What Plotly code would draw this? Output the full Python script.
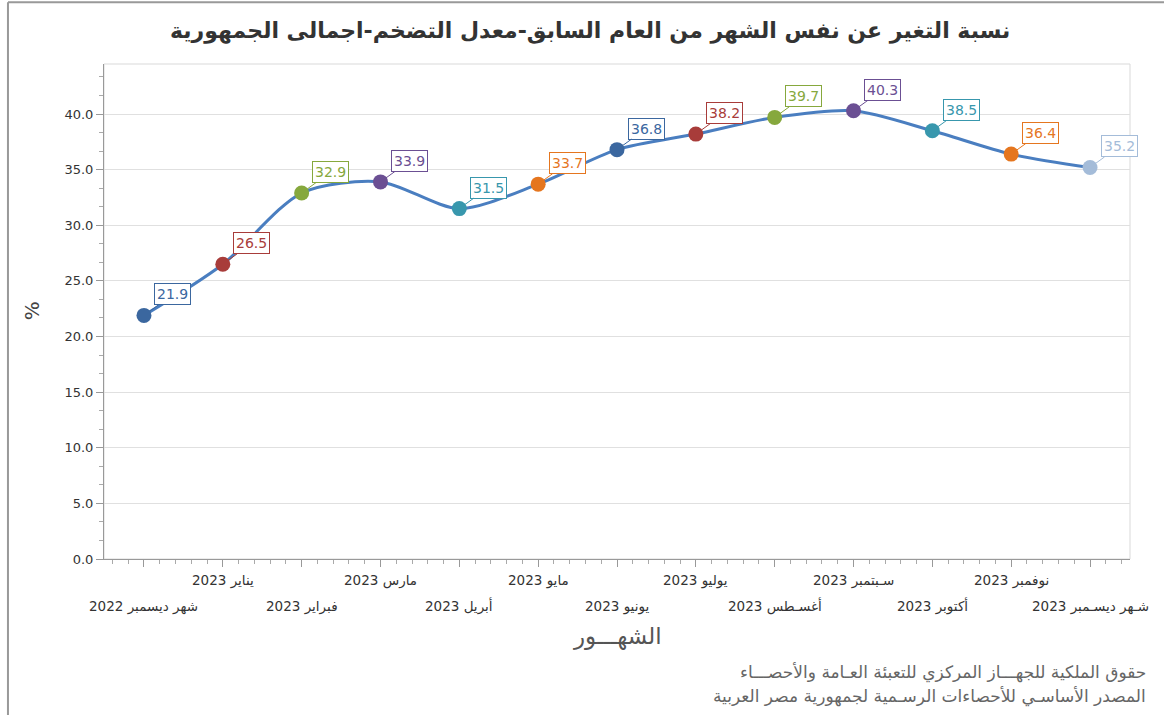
import plotly.graph_objects as go

months = [
    "شهر ديسمبر 2022", "يناير 2023", "فبراير 2023", "مارس 2023", "أبريل 2023",
    "مايو 2023", "يونيو 2023", "يوليو 2023", "أغسـطس 2023", "سـبتمبر 2023",
    "أكتوبر 2023", "نوفمبر 2023", "شـهر ديسـمبر 2023",
]
values = [21.9, 26.5, 32.9, 33.9, 31.5, 33.7, 36.8, 38.2, 39.7, 40.3, 38.5, 36.4, 35.2]
point_colors = [
    "#3b679f", "#a83c3a", "#86a83d", "#6b4f93", "#3897ad", "#e5761f",
    "#3b679f", "#a83c3a", "#86a83d", "#6b4f93", "#3897ad", "#e5761f", "#a4bcd9",
]
y_ticks = [0, 5, 10, 15, 20, 25, 30, 35, 40]

title_text = "نسبة التغير عن نفس الشهر من العام السابق-معدل التضخم-اجمالى الجمهورية"
x_title = "الشهـــور"
y_title = "%"
footer_lines = [
    "حقوق الملكية للجهـــاز المركزي للتعبئة العـامة والأحصـــاء",
    "المصدر الأساسـي للأحصاءات الرسـمية لجمهورية مصر العربية",
]

FONT = "DejaVu Sans"
x_idx = list(range(len(months)))

fig = go.Figure()
fig.add_trace(go.Scatter(
    x=x_idx, y=values, mode="lines+markers",
    line=dict(color="#4a7ec0", width=3, shape="spline", smoothing=0.8),
    marker=dict(size=15, color=point_colors, line=dict(width=0)),
    hoverinfo="skip", showlegend=False,
))

annotations = []
for i, (v, c) in enumerate(zip(values, point_colors)):
    annotations.append(dict(
        x=i, y=v, xref="x", yref="y", text=f"{v:.1f}",
        showarrow=True, arrowhead=0, arrowwidth=1, arrowcolor=c,
        ax=29, ay=-21, standoff=6,
        font=dict(family=FONT, size=14, color=c),
        bgcolor="white", bordercolor=c, borderwidth=1, borderpad=2,
    ))

# category labels in two staggered rows
for i, m in enumerate(months):
    annotations.append(dict(
        x=i, xref="x", y=(-0.0444 if i % 2 == 1 else -0.095), yref="paper",
        text=m, showarrow=False, xanchor="center", yanchor="middle",
        font=dict(family=FONT, size=13.5, color="#333333"),
    ))

annotations.append(dict(
    x=0.5, xref="paper", y=-0.156, yref="paper", text=x_title, showarrow=False,
    xanchor="center", yanchor="middle", font=dict(family=FONT, size=23, color="#555555"),
))
annotations.append(dict(
    x=-0.070, xref="paper", y=0.501, yref="paper", text=y_title, showarrow=False,
    textangle=-90, xanchor="center", yanchor="middle",
    font=dict(family=FONT, size=20, color="#444444"),
))
for k, line in enumerate(footer_lines):
    annotations.append(dict(
        x=1.0175, xref="paper", y=[-0.230, -0.277][k], yref="paper", text=line,
        showarrow=False, xanchor="right", yanchor="middle",
        font=dict(family=FONT, size=17, color="#666666"),
    ))

shapes = [
    # plot area frame (light)
    dict(type="rect", xref="paper", yref="paper", x0=0, x1=1, y0=0, y1=1,
         line=dict(color="#d9d9d9", width=1), layer="below"),
    # outer figure border (left and top)
    dict(type="line", xref="paper", yref="paper", x0=-0.0936, x1=-0.0936, y0=1.125, y1=-0.32,
         line=dict(color="#999999", width=2)),
    dict(type="line", xref="paper", yref="paper", x0=-0.0936, x1=1.06, y0=1.125, y1=1.125,
         line=dict(color="#999999", width=2)),
]

fig.update_layout(
    width=1164, height=715,
    margin=dict(l=104, r=34, t=64, b=156),
    paper_bgcolor="white", plot_bgcolor="white",
    title=dict(text="<b>" + title_text + "</b>", x=0.507, xref="container", xanchor="center",
               y=0.958, yref="container", yanchor="middle",
               font=dict(family=FONT, size=22, color="#333333")),
    font=dict(family=FONT, size=12, color="#333333"),
    annotations=annotations, shapes=shapes,
    hovermode=False,
)
fig.update_xaxes(
    range=[-0.507, 12.507], tickmode="array", tickvals=x_idx, ticktext=[""] * len(months),
    showgrid=False, zeroline=False, showline=True, linecolor="#999999", linewidth=1,
    ticks="outside", ticklen=7, tickcolor="#999999",
    minor=dict(dtick=0.2, tick0=0, ticks="outside", ticklen=4, tickcolor="#aaaaaa", showgrid=False),
    fixedrange=True,
)
fig.update_yaxes(
    range=[0, 44.5], tickmode="array", tickvals=y_ticks,
    ticktext=[f"{t:.1f}" for t in y_ticks],
    tickfont=dict(family=FONT, size=13, color="#333333"),
    showgrid=True, gridcolor="#e0e0e0", gridwidth=1, zeroline=False,
    showline=True, linecolor="#999999", linewidth=1,
    ticks="outside", ticklen=7, tickcolor="#999999",
    minor=dict(dtick=5 / 3, tick0=0, ticks="outside", ticklen=4, tickcolor="#aaaaaa", showgrid=False),
    fixedrange=True,
)

fig.write_html("out.html", config={"displayModeBar": False},
               post_script="document.body.style.margin='0';")
